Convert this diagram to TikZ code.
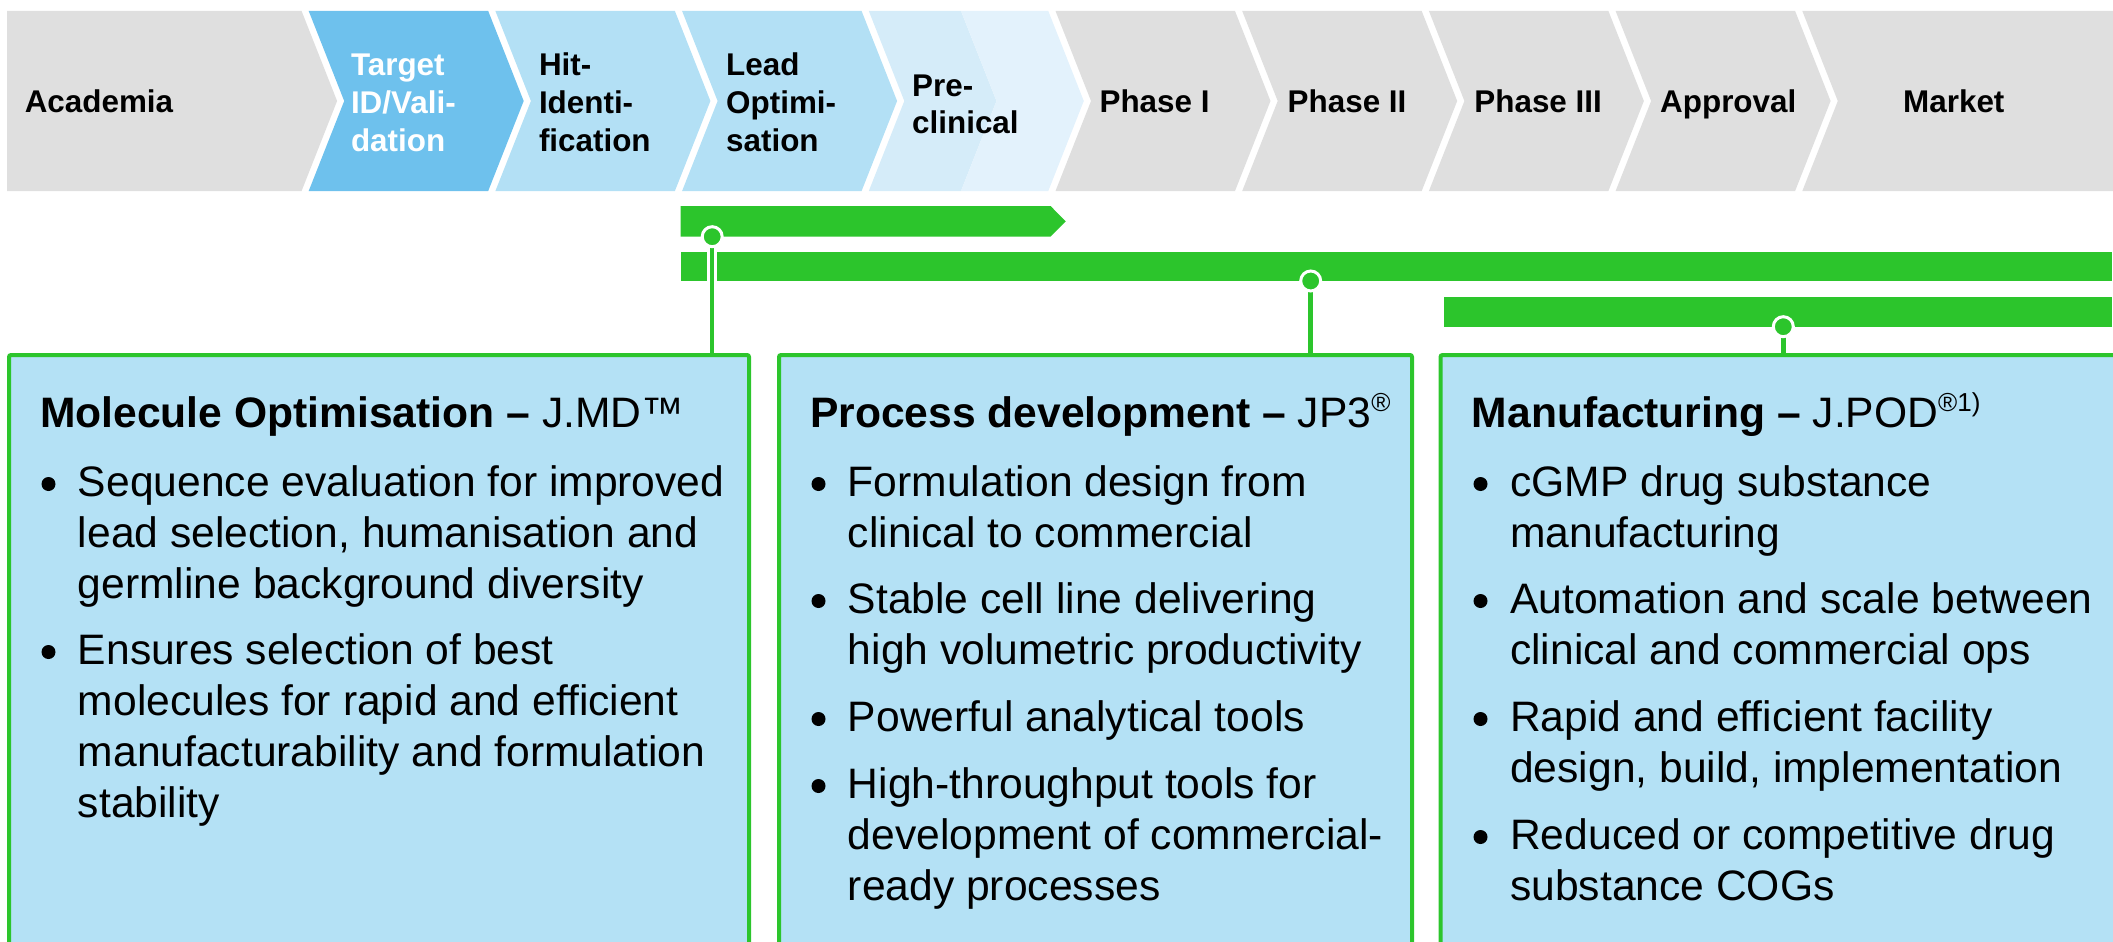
\documentclass[tikz,border=0pt]{standalone}
\usepackage{fontspec}
\setmainfont{Liberation Sans}
\definecolor{jgreen}{RGB}{44,197,44}
\definecolor{jgray}{RGB}{223,223,223}
\definecolor{jtarget}{RGB}{110,193,237}
\definecolor{jhit}{RGB}{179,224,245}
\definecolor{jpreA}{RGB}{213,236,249}
\definecolor{jpreB}{RGB}{227,242,252}
\definecolor{jbox}{RGB}{180,225,245}
\newcommand\jchev[2]{\fill[#2] (#1,11) -- ++(179.5,0) -- ++(35.5,90) -- ++(-35.5,90) -- ++(-179.5,0) -- ++(35.5,-90) -- cycle;}
\newcommand\jline[4]{\node[bodytxt] (#1) at (#2,#3) {#4};}
\newcommand\jbul[3]{\node[bulletdot] (#1) at (#2,#3-12) {};}
\newcommand\jsup[1]{\raisebox{0.36em}{\fontsize{26}{26}\selectfont #1}}
\begin{document}
\begin{tikzpicture}[x=1pt,y=-1pt,
  chevtxt/.style={font=\bfseries\fontsize{31.4}{38}\selectfont, anchor=base west, inner sep=0pt, text=black},
  bodytxt/.style={font=\fontsize{42.6}{51}\selectfont, anchor=base west, inner sep=0pt, text=black},
  bulletdot/.style={circle, fill=black, minimum size=14pt, inner sep=0pt},
  infobox/.style={draw=jgreen, fill=jbox, line width=4pt, rounded corners=2pt, inner sep=0pt, outer sep=0pt, anchor=north west, minimum height=700pt},
  dot/.style={circle, fill=jgreen, draw=white, line width=3pt, minimum size=20pt, inner sep=0pt},
  casing/.style={white, line width=9.5pt, shorten >=4pt},
  conn/.style={jgreen, line width=4.5pt}
]
\useasboundingbox (0,0) rectangle (2113,942);
\clip (0,0) rectangle (2113,942);

% --- chevron band ---
\fill[jgray] (7,11) -- (301.6,11) -- (337.1,101) -- (301.6,191) -- (7,191) -- cycle;
\jchev{308.7}{jtarget}
\jchev{495.4}{jhit}
\jchev{682.1}{jhit}
\fill[jpreA] (868.8,11) -- (961,11) -- (996.5,101) -- (961,191) -- (868.8,191) -- (904.3,101) -- cycle;
\fill[jpreB] (961,11) -- (1048.3,11) -- (1083.8,101) -- (1048.3,191) -- (961,191) -- (996.5,101) -- cycle;
\jchev{1055.5}{jgray}
\jchev{1242.2}{jgray}
\jchev{1428.9}{jgray}
\jchev{1615.6}{jgray}
\fill[jgray] (1802.3,11) -- (2113,11) -- (2113,191) -- (1802.3,191) -- (1837.8,101) -- cycle;

\node[chevtxt] (ac) at (24.6,112) {Academia};
\node[chevtxt, text=white] (ta) at (350.8,75.8) {Target};
\node[chevtxt, text=white] (tb) at (350.8,113.8) {ID/Vali-};
\node[chevtxt, text=white] (tc) at (350.8,151.8) {dation};
\node[chevtxt] (ha) at (538.8,75.8) {Hit-};
\node[chevtxt] (hb) at (538.8,113.8) {Identi-};
\node[chevtxt] (hc) at (538.8,151.8) {fication};
\node[chevtxt] (la) at (726,75.8) {Lead};
\node[chevtxt] (lb) at (726,113.8) {Optimi-};
\node[chevtxt] (lc) at (726,151.8) {sation};
\node[chevtxt] (pa) at (912,96) {Pre-};
\node[chevtxt] (pb) at (912,133.5) {clinical};
\node[chevtxt] (p1) at (1099.4,112) {Phase I};
\node[chevtxt] (p2) at (1287.5,112) {Phase II};
\node[chevtxt] (p3) at (1474.2,112) {Phase III};
\node[chevtxt] (ap) at (1660,112) {Approval};
\node[chevtxt] (mk) at (1903,112) {Market};

% --- green bars ---
\fill[jgreen] (680.6,206) -- (1050.5,206) -- (1065.8,221.35) -- (1050.5,236.7) -- (680.6,236.7) -- cycle;
\fill[jgreen] (680.6,251.7) rectangle (2111.5,281);
\fill[jgreen] (1444,297.3) rectangle (2111.5,326.7);

% --- boxes ---
\node[infobox, minimum width=740pt] (box1) at (9,355) {};
\node[infobox, minimum width=633pt] (box2) at (779,355) {};
\node[infobox, minimum width=760pt] (box3) at (1440.5,355) {};

% --- connector dots ---
\coordinate (d1) at (712.2,236.7);
\coordinate (d2) at (1310.7,281);
\coordinate (d3) at (1783.3,326.7);
\draw[casing] (d1) -- (d1 |- box1.north);
\draw[conn] (d1) -- (d1 |- box1.north);
\draw[casing] (d2) -- (d2 |- box2.north);
\draw[conn] (d2) -- (d2 |- box2.north);
\draw[casing] (d3) -- (d3 |- box3.north);
\draw[conn] (d3) -- (d3 |- box3.north);
\node[dot] (c1) at (d1) {};
\node[dot] (c2) at (d2) {};
\node[dot] (c3) at (d3) {};

% --- box 1 text ---
\jline{t1}{40}{427.3}{\textbf{Molecule Optimisation –} J.MD™}
\jbul{b11}{48.5}{496}
\jline{l11}{77.7}{496}{Sequence evaluation for improved}
\jline{l12}{77.7}{547}{lead selection, humanisation and}
\jline{l13}{77.7}{598}{germline background diversity}
\jbul{b12}{48.5}{664}
\jline{l14}{77.7}{664}{Ensures selection of best}
\jline{l15}{77.7}{715}{molecules for rapid and efficient}
\jline{l16}{77.7}{766}{manufacturability and formulation}
\jline{l17}{77.7}{817}{stability}

% --- box 2 text ---
\jline{t2}{810}{427.3}{\textbf{Process development –} JP3\jsup{®}}
\jbul{b21}{818.5}{496}
\jline{l21}{847.7}{496}{Formulation design from}
\jline{l22}{847.7}{547}{clinical to commercial}
\jbul{b22}{818.5}{613}
\jline{l23}{847.7}{613}{Stable cell line delivering}
\jline{l24}{847.7}{664}{high volumetric productivity}
\jbul{b23}{818.5}{731}
\jline{l25}{847.7}{731}{Powerful analytical tools}
\jbul{b24}{818.5}{798}
\jline{l26}{847.7}{798}{High-throughput tools for}
\jline{l27}{847.7}{849}{development of commercial-}
\jline{l28}{847.7}{900}{ready processes}

% --- box 3 text ---
\jline{t3}{1471.7}{427.3}{\textbf{Manufacturing –} J.POD\jsup{®1)}}
\jbul{b31}{1480.5}{496}
\jline{l31}{1510}{496}{cGMP drug substance}
\jline{l32}{1510}{547}{manufacturing}
\jbul{b32}{1480.5}{613}
\jline{l33}{1510}{613}{Automation and scale between}
\jline{l34}{1510}{664}{clinical and commercial ops}
\jbul{b33}{1480.5}{731}
\jline{l35}{1510}{731}{Rapid and efficient facility}
\jline{l36}{1510}{782}{design, build, implementation}
\jbul{b34}{1480.5}{849}
\jline{l37}{1510}{849}{Reduced or competitive drug}
\jline{l38}{1510}{900}{substance COGs}
\end{tikzpicture}
\end{document}
